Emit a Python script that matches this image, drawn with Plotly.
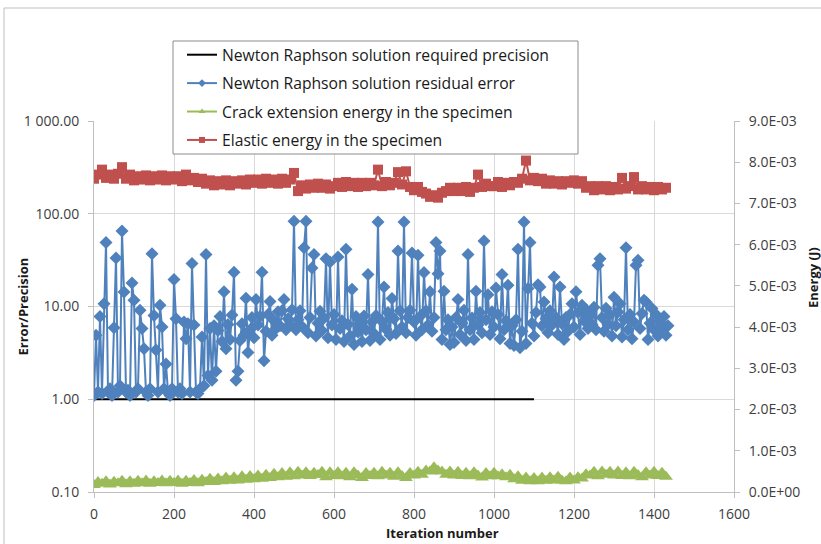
import plotly.graph_objects as go

# ---------------- data ----------------
blue_iter = list(range(0, 1440, 5))
blue_error = (
    [1.1, 4.9, 1.2, 7.8, 1.15, 10.7, 48.9, 1.2, 1.3, 1.1, 5.9, 33.3, 1.2, 1.4, 65.0, 14.3, 1.2, 1.25, 1.1, 17.9]
    + [11.7, 1.2, 1.3, 9.1, 5.8, 3.5, 1.2, 1.1, 1.3, 37.0, 8.0, 3.4, 1.2, 10.3, 6.0, 1.3, 2.4, 1.2, 1.1, 1.3]
    + [19.5, 7.4, 1.2, 1.3, 1.15, 6.8, 4.5, 6.5, 1.2, 29.0, 6.3, 1.2, 1.15, 1.3, 4.7, 1.4, 36.3, 1.8, 5.8, 1.6]
    + [6.2, 2.0, 5.5, 7.8, 4.2, 14.4, 3.5, 6.4, 4.4, 8.1, 23.4, 1.6, 2.0, 4.3, 6.5, 4.9, 12.3, 3.2, 5.6, 7.6]
    + [4.6, 11.9, 6.3, 7.8, 23.4, 2.6, 5.4, 8.2, 11.3, 4.9, 7.0, 5.8, 8.8, 6.2, 9.0, 11.9, 5.6, 7.4, 6.4, 9.2]
    + [83.0, 5.6, 7.2, 9.0, 6.1, 43.0, 83.0, 5.2, 7.6, 26.0, 36.3, 4.8, 6.6, 8.9, 5.5, 7.5, 32.8, 4.6, 30.2, 6.3]
    + [8.2, 4.4, 34.2, 5.8, 7.0, 4.2, 41.4, 6.4, 4.8, 15.3, 3.9, 7.8, 5.3, 6.6, 4.2, 7.9, 5.6, 22.2, 4.3, 6.8]
    + [5.1, 8.0, 81.5, 4.4, 6.9, 16.2, 5.7, 8.6, 4.9, 12.2, 7.4, 5.1, 39.6, 9.0, 6.0, 81.5, 5.2, 7.6, 9.1, 37.8]
    + [6.8, 4.9, 35.6, 7.8, 5.6, 23.2, 9.0, 6.3, 14.4, 5.4, 7.6, 48.9, 22.6, 39.6, 4.4, 14.6, 5.6, 7.2, 3.9, 6.0]
    + [4.1, 7.6, 11.9, 5.0, 6.6, 9.1, 4.3, 36.3, 5.6, 7.5, 4.4, 14.6, 6.3, 8.6, 5.2, 50.8, 7.2, 13.4, 5.0, 8.8]
    + [6.0, 15.8, 8.2, 4.5, 22.1, 5.6, 7.0, 16.9, 4.0, 6.2, 3.8, 7.2, 41.4, 3.6, 5.4, 81.5, 4.0, 15.6, 48.9, 6.6]
    + [4.8, 8.6, 17.2, 16.2, 6.2, 11.2, 7.4, 5.2, 9.0, 6.3, 20.8, 7.6, 5.0, 16.2, 6.5, 4.4, 7.6, 5.4, 8.2, 10.7]
    + [6.0, 14.4, 8.6, 5.0, 10.3, 7.0, 9.2, 5.8, 8.0, 6.4, 9.8, 5.6, 27.8, 32.8, 7.6, 5.4, 9.6, 6.4, 8.2, 4.8]
    + [12.6, 6.2, 8.7, 10.7, 4.7, 7.2, 43.0, 5.6, 8.2, 4.5, 6.8, 27.8, 31.5, 5.8, 8.4, 11.7, 11.2, 4.4, 6.6, 9.5]
    + [5.6, 8.2, 4.8, 7.0, 5.9, 7.8, 4.9, 6.2]
)

energy_iter = list(range(0, 1440, 10))
elastic_mJ = (
    [7.60, 7.70, 7.82, 7.62, 7.70, 7.60, 7.72, 7.88, 7.60, 7.70]
    + [7.56, 7.66, 7.58, 7.68, 7.56, 7.66, 7.58, 7.68, 7.56, 7.66]
    + [7.58, 7.66, 7.54, 7.70, 7.56, 7.62, 7.52, 7.60, 7.48, 7.56]
    + [7.44, 7.54, 7.46, 7.56, 7.44, 7.54, 7.48, 7.56, 7.46, 7.58]
    + [7.50, 7.58, 7.48, 7.60, 7.50, 7.58, 7.48, 7.60, 7.50, 7.58]
    + [7.74, 7.30, 7.44, 7.36, 7.46, 7.38, 7.48, 7.38, 7.46, 7.36]
    + [7.42, 7.50, 7.40, 7.52, 7.42, 7.50, 7.40, 7.50, 7.42, 7.50]
    + [7.44, 7.82, 7.42, 7.52, 7.44, 7.50, 7.76, 7.46, 7.78, 7.40]
    + [7.32, 7.40, 7.28, 7.24, 7.16, 7.20, 7.14, 7.26, 7.30, 7.38]
    + [7.30, 7.38, 7.30, 7.40, 7.28, 7.38, 7.70, 7.40, 7.48, 7.42]
    + [7.42, 7.52, 7.40, 7.50, 7.44, 7.52, 7.50, 7.60, 8.04, 7.56]
    + [7.62, 7.54, 7.60, 7.48, 7.56, 7.48, 7.54, 7.46, 7.54, 7.50]
    + [7.56, 7.48, 7.54, 7.38, 7.42, 7.32, 7.42, 7.34, 7.42, 7.32]
    + [7.40, 7.34, 7.62, 7.36, 7.42, 7.64, 7.34, 7.42, 7.34, 7.40]
    + [7.32, 7.40, 7.34, 7.38]
)
crack_mJ = (
    [0.17, 0.24, 0.20, 0.26, 0.18, 0.25, 0.21, 0.27, 0.19, 0.26]
    + [0.20, 0.27, 0.21, 0.28, 0.20, 0.26, 0.22, 0.28, 0.21, 0.27]
    + [0.22, 0.28, 0.20, 0.27, 0.22, 0.29, 0.21, 0.30, 0.24, 0.32]
    + [0.24, 0.33, 0.26, 0.35, 0.27, 0.36, 0.28, 0.38, 0.30, 0.39]
    + [0.31, 0.40, 0.32, 0.42, 0.34, 0.44, 0.36, 0.46, 0.37, 0.48]
    + [0.38, 0.49, 0.40, 0.48, 0.39, 0.47, 0.41, 0.49, 0.36, 0.48]
    + [0.39, 0.48, 0.38, 0.47, 0.36, 0.48, 0.40, 0.34, 0.46, 0.39]
    + [0.47, 0.38, 0.49, 0.40, 0.47, 0.37, 0.48, 0.39, 0.34, 0.46]
    + [0.40, 0.49, 0.42, 0.52, 0.50, 0.60, 0.52, 0.50, 0.42, 0.50]
    + [0.40, 0.49, 0.39, 0.47, 0.38, 0.48, 0.40, 0.35, 0.46, 0.38]
    + [0.47, 0.38, 0.43, 0.36, 0.42, 0.31, 0.38, 0.27, 0.35, 0.26]
    + [0.34, 0.26, 0.35, 0.27, 0.36, 0.28, 0.37, 0.28, 0.26, 0.35]
    + [0.28, 0.36, 0.33, 0.43, 0.40, 0.49, 0.38, 0.50, 0.42, 0.49]
    + [0.40, 0.50, 0.39, 0.48, 0.38, 0.49, 0.41, 0.36, 0.48, 0.40]
    + [0.49, 0.39, 0.47, 0.37]
)
elastic_J = [v * 1e-3 for v in elastic_mJ]
crack_J = [v * 1e-3 for v in crack_mJ]

precision_iter = [0, 1100]
precision_val = [1.0, 1.0]

left_tickvals = [0.1, 1, 10, 100, 1000]
left_ticktext = ["0.10", "1.00", "10.00", "100.00", "1 000.00"]
right_tickvals = [i * 1e-3 for i in range(10)]
right_ticktext = ["0.0E+00"] + [f"{i}.0E-03" for i in range(1, 10)]

names = [
    "Newton Raphson solution required precision",
    "Newton Raphson solution residual error",
    "Crack extension energy in the specimen",
    "Elastic energy in the specimen",
]

# ---------------- figure ----------------
FONT = "Open Sans"
BLUE, RED, GREEN = "#4F81BD", "#C0504D", "#9BBB59"
GRID = "#D9D9D9"
AXIS = "#BFBFBF"
TXT = "#404040"

fig = go.Figure()
fig.add_trace(go.Scatter(x=precision_iter, y=precision_val, mode="lines", name=names[0],
                         line=dict(color="black", width=2), showlegend=False))
fig.add_trace(go.Scatter(x=blue_iter, y=blue_error, mode="lines+markers", name=names[1],
                         line=dict(color=BLUE, width=2),
                         marker=dict(symbol="diamond", size=10, color=BLUE), showlegend=False))
fig.add_trace(go.Scatter(x=energy_iter, y=crack_J, mode="lines+markers", name=names[2], yaxis="y2",
                         line=dict(color=GREEN, width=2),
                         marker=dict(symbol="triangle-up", size=12, color=GREEN), showlegend=False))
fig.add_trace(go.Scatter(x=energy_iter, y=elastic_J, mode="lines+markers", name=names[3], yaxis="y2",
                         line=dict(color=RED, width=2),
                         marker=dict(symbol="square", size=10, color=RED), showlegend=False))

# legend entries (small Excel-like symbols)
legend_specs = [
    ("lines", "black", None),
    ("lines+markers", BLUE, "diamond"),
    ("lines+markers", GREEN, "triangle-up"),
    ("lines+markers", RED, "square"),
]
for i, (mode, col, sym) in enumerate(legend_specs):
    fig.add_trace(go.Scatter(x=[None], y=[None], mode=mode, name=names[i],
                             line=dict(color=col, width=2),
                             marker=dict(symbol=sym or "circle", size=6, color=col),
                             legendgroup=f"g{i}", showlegend=True))

W, H = 821, 544
L, R, T, B = 94, 87, 121, 52
pw, ph = W - L - R, H - T - B


def px(x):
    return (x - L) / pw


def py(y):
    return (H - B - y) / ph


fig.update_layout(
    width=W, height=H,
    margin=dict(l=L, r=R, t=T, b=B, pad=0, autoexpand=False),
    paper_bgcolor="white", plot_bgcolor="white",
    font=dict(family=FONT, size=14, color=TXT),
    showlegend=True,
    legend=dict(x=px(182), y=py(38), xanchor="left", yanchor="top",
                bgcolor="rgba(0,0,0,0)", borderwidth=0,
                font=dict(family=FONT, size=15.7, color="#1a1a1a"),
                traceorder="grouped", tracegroupgap=5, itemwidth=30),
    xaxis=dict(range=[0, 1600], dtick=200, tick0=0, showgrid=True, gridcolor=GRID, gridwidth=1,
               showline=True, linecolor=AXIS, linewidth=1, ticks="outside", ticklen=5,
               tickcolor=AXIS, zeroline=False, tickfont=dict(size=14, color=TXT),
               ticklabelstandoff=4),
    yaxis=dict(type="log", range=[-1, 3], tickvals=left_tickvals, ticktext=left_ticktext,
               showgrid=True, gridcolor=GRID, gridwidth=1, showline=True, linecolor=AXIS,
               linewidth=1, ticks="outside", ticklen=5, tickcolor=AXIS, zeroline=False,
               tickfont=dict(size=14, color=TXT), ticklabelstandoff=6),
    yaxis2=dict(overlaying="y", side="right", range=[0, 0.009], tickvals=right_tickvals,
                ticktext=right_ticktext, showgrid=False, showline=True, linecolor=AXIS,
                linewidth=1, ticks="outside", ticklen=5, tickcolor=AXIS, zeroline=False,
                tickfont=dict(size=14, color=TXT), ticklabelstandoff=6),
    shapes=[
        dict(type="rect", xref="paper", yref="paper", x0=px(4), x1=px(835), y0=py(560), y1=py(8),
             line=dict(color="#BFBFBF", width=1), fillcolor="rgba(0,0,0,0)", layer="below"),
        dict(type="rect", xref="paper", yref="paper", x0=px(173), x1=px(578), y0=py(154), y1=py(41),
             line=dict(color="#8C8C8C", width=1), fillcolor="white", layer="above"),
    ],
    annotations=[
        dict(text="<b>Error/Precision</b>", xref="paper", yref="paper", x=px(22), y=0.5,
             xanchor="center", yanchor="middle",
             textangle=-90, showarrow=False, font=dict(size=13, color="#1a1a1a")),
        dict(text="<b>Energy (J)</b>", xref="paper", yref="paper", x=px(813), y=py(278),
             xanchor="center", yanchor="middle",
             textangle=-90, showarrow=False, font=dict(size=13, color="#1a1a1a")),
        dict(text="<b>Iteration number</b>", xref="paper", yref="paper", x=px(442), y=py(533),
             xanchor="center", yanchor="middle",
             showarrow=False, font=dict(size=13, color="#1a1a1a")),
    ],
)

fig.write_html("out.html", config={"displayModeBar": False},
               post_script="document.body.style.margin='0';")
